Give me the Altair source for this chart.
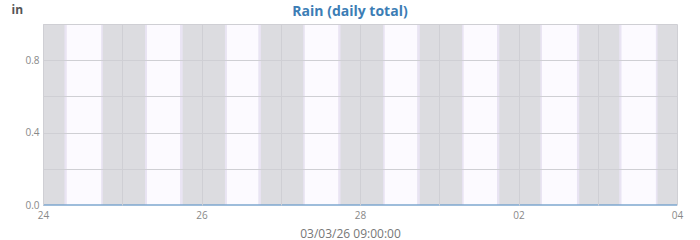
import altair as alt
import pandas as pd

# Rain daily totals (inches)
rain_dates = ["2026-02-24", "2026-02-25", "2026-02-26", "2026-02-27", "2026-02-28",
              "2026-03-01", "2026-03-02", "2026-03-03", "2026-03-04"]
rain_values = [0, 0, 0, 0, 0, 0, 0, 0, 0]

# Daylight (hours after midnight) for each day shown
days = ["2026-02-24", "2026-02-25", "2026-02-26", "2026-02-27",
        "2026-02-28", "2026-03-01", "2026-03-02", "2026-03-03"]
dawn = [6.5, 6.9, 7.1, 6.8, 7.0, 6.9, 6.6, 6.5]
sunrise = [7.2, 7.5, 7.7, 7.3, 7.5, 7.4, 7.1, 7.2]
sunset = [17.6, 17.5, 17.2, 17.4, 17.3, 17.5, 17.7, 17.6]
dusk = [18.1, 18.3, 18.0, 18.1, 18.1, 18.2, 18.4, 18.1]

y_ticks = [0, 0.2, 0.4, 0.6, 0.8, 1.0]

rain = pd.DataFrame({"t": [d + "T00:00:00Z" for d in rain_dates], "v": rain_values})

def ts(day, h):
    return (pd.Timestamp(day + "T00:00:00Z") + pd.Timedelta(hours=h)).isoformat()

twi = pd.DataFrame({"s": [ts(d, a) for d, a in zip(days, dawn)],
                    "e": [ts(d, b) for d, b in zip(days, dusk)]})
day = pd.DataFrame({"s": [ts(d, a) for d, a in zip(days, sunrise)],
                    "e": [ts(d, b) for d, b in zip(days, sunset)]})

xscale = alt.Scale(type="utc",
                   domain=[alt.DateTime(year=2026, month=2, date=24, utc=True),
                           alt.DateTime(year=2026, month=3, date=4, utc=True)])
yscale = alt.Scale(domain=[0, 1], nice=False)

xvals = [alt.DateTime(year=2026, month=2, date=24 + i, utc=True) for i in range(5)] + \
        [alt.DateTime(year=2026, month=3, date=1 + i, utc=True) for i in range(4)]

xaxis = alt.Axis(values=xvals, format="%d", labelExpr="utcdate(datum.value) % 2 == 0 ? utcFormat(datum.value, '%d') : ''",
                 title="03/03/26 09:00:00", titleFontSize=12, titleFontWeight="normal",
                 titleColor="#777777", titleX=307, titleY=32, titleBaseline="alphabetic",
                 titleAnchor="start", titleAlign="center",
                 labelFontSize=10, labelColor="#888888", labelPadding=5, labelFlush=False,
                 ticks=False, domain=False, grid=True, gridColor="#cfcfd4", zindex=1)
yaxis = alt.Axis(values=y_ticks,
                 labelExpr="(abs(datum.value) < 0.001 || abs(datum.value - 0.4) < 0.001 || abs(datum.value - 0.8) < 0.001) ? format(datum.value, '.1f') : ''",
                 title="in", titleAngle=0, titleX=-32, titleY=-11, titleAlign="left",
                 titleBaseline="alphabetic", titleFontSize=12, titleFontWeight="bold", titleColor="#555555",
                 labelFontSize=10, labelColor="#888888", labelPadding=4,
                 ticks=False, domain=False, grid=True,
                 gridColor=alt.condition("datum.value < 0.001", alt.value("transparent"), alt.value("#cfcfd4")),
                 zindex=1)

twi_layer = alt.Chart(twi).mark_rect(color="#e9e4f3").encode(
    x=alt.X("s:T", scale=xscale, axis=xaxis), x2="e:T",
    y=alt.value(0), y2=alt.value(181))
day_layer = alt.Chart(day).mark_rect(color="#fcfaff").encode(
    x=alt.X("s:T", scale=xscale), x2="e:T",
    y=alt.value(0), y2=alt.value(181))
line = alt.Chart(rain).mark_line(color="#7ea7cf", strokeWidth=1.5).encode(
    x=alt.X("t:T", scale=xscale),
    y=alt.Y("v:Q", scale=yscale, axis=yaxis))

chart = alt.layer(twi_layer, day_layer, line).properties(
    width=634, height=181,
    autosize=alt.AutoSizeParams(type="none"),
    padding={"left": 43, "top": 24, "right": 23, "bottom": 35},
    title=alt.TitleParams("Rain (daily total)", fontSize=14, fontWeight="bold",
                          color="#3c7db5", anchor="middle", dx=-10, dy=22, offset=6),
).configure(font="Open Sans").configure_view(fill="#dcdce0", strokeWidth=0)

chart.save("out.html", embed_options={"renderer": "svg", "actions": False})
